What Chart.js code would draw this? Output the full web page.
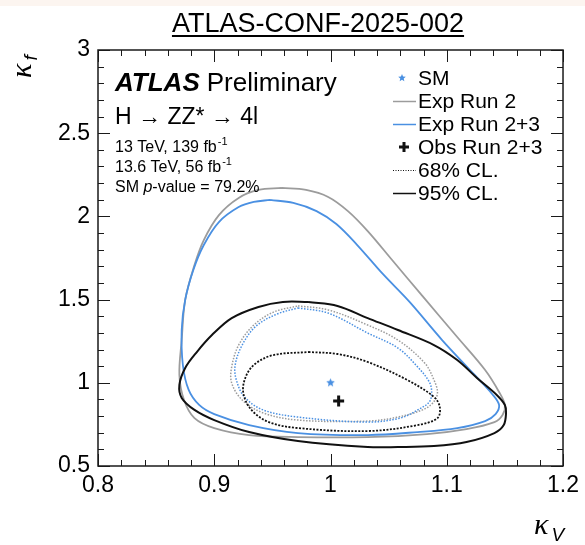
<!DOCTYPE html>
<html>
<head>
<meta charset="utf-8">
<script src="https://cdn.jsdelivr.net/npm/chart.js@4.4.1/dist/chart.umd.min.js"></script>
<style>
  html, body { margin: 0; padding: 0; background: #fff; }
  #band { position: absolute; left: 0; top: 0; width: 585px; height: 6px; background: #fcf5f0; }
  #wrap { position: relative; width: 585px; height: 545px; }
</style>
</head>
<body>
<div id="wrap"><canvas id="kappaChart" width="585" height="545"></canvas><div id="band"></div></div>
<script>
// ---- contours in the (kappa_V, kappa_f) plane, each a closed loop of [kV, kf] ----
const expRun2_95 = [
  [0.958, 2.171], [0.979, 2.159], [0.998, 2.117], [1.015, 2.032], [1.032, 1.912],
  [1.053, 1.738], [1.079, 1.522], [1.109, 1.275], [1.133, 1.077], [1.145, 0.945],
  [1.150, 0.867], [1.148, 0.807], [1.141, 0.764], [1.117, 0.722], [1.083, 0.692],
  [1.032, 0.674], [0.972, 0.674], [0.930, 0.686], [0.900, 0.728], [0.883, 0.788],
  [0.874, 0.897], [0.870, 1.047], [0.872, 1.257], [0.875, 1.498], [0.883, 1.708],
  [0.891, 1.858], [0.904, 2.008], [0.921, 2.111], [0.938, 2.159]
];
const expRun23_95 = [
  [0.948, 2.099], [0.968, 2.081], [0.988, 2.032], [1.005, 1.954], [1.023, 1.828],
  [1.045, 1.654], [1.068, 1.486], [1.096, 1.257], [1.124, 1.047], [1.139, 0.933],
  [1.145, 0.867], [1.142, 0.812], [1.133, 0.770], [1.109, 0.728], [1.075, 0.704],
  [1.032, 0.686], [0.972, 0.698], [0.930, 0.746], [0.900, 0.812], [0.887, 0.867],
  [0.878, 0.957], [0.873, 1.107], [0.872, 1.317], [0.875, 1.498], [0.882, 1.678],
  [0.891, 1.828], [0.904, 1.966], [0.921, 2.056], [0.934, 2.087]
];
const obsRun23_95 = [
  [0.981, 1.486], [1.006, 1.462], [1.032, 1.389], [1.058, 1.317], [1.089, 1.227],
  [1.109, 1.137], [1.126, 1.029], [1.143, 0.927], [1.150, 0.867], [1.151, 0.819],
  [1.149, 0.746], [1.141, 0.698], [1.117, 0.644], [1.089, 0.620], [1.058, 0.614],
  [1.032, 0.614], [0.972, 0.650], [0.930, 0.704], [0.900, 0.776], [0.883, 0.837],
  [0.872, 0.909], [0.870, 0.987], [0.875, 1.089], [0.885, 1.185], [0.898, 1.287],
  [0.915, 1.389], [0.938, 1.456], [0.959, 1.486]
];
const expRun2_68 = [
  [0.972, 1.462], [0.998, 1.438], [1.032, 1.347], [1.058, 1.257], [1.081, 1.119],
  [1.089, 1.017], [1.092, 0.939], [1.088, 0.879], [1.079, 0.837], [1.058, 0.794],
  [1.032, 0.770], [0.972, 0.776], [0.942, 0.819], [0.924, 0.897], [0.915, 0.999],
  [0.915, 1.095], [0.921, 1.227], [0.934, 1.347], [0.951, 1.425]
];
const expRun23_68 = [
  [0.972, 1.450], [0.998, 1.419], [1.032, 1.299], [1.058, 1.209], [1.075, 1.095],
  [1.085, 1.005], [1.087, 0.945], [1.085, 0.885], [1.075, 0.837], [1.060, 0.788],
  [1.032, 0.764], [0.972, 0.794], [0.942, 0.837], [0.926, 0.915], [0.919, 1.017],
  [0.918, 1.107], [0.924, 1.227], [0.936, 1.341], [0.954, 1.413]
];
const obsRun23_68 = [
  [0.981, 1.185], [1.006, 1.173], [1.032, 1.125], [1.066, 1.017], [1.089, 0.915],
  [1.094, 0.855], [1.092, 0.788], [1.075, 0.746], [1.032, 0.710], [0.972, 0.728],
  [0.947, 0.764], [0.932, 0.837], [0.925, 0.939], [0.927, 1.035], [0.935, 1.113],
  [0.951, 1.167]
];

// Standard Model point and best fit
const smPoint = [1.0, 1.0];
const bestFit = [1.007, 0.89];

// axis ticks
const xMajorTicks = [0.8, 0.9, 1.0, 1.1, 1.2];
const xTickLabels = ['0.8', '0.9', '1', '1.1', '1.2'];
const yMajorTicks = [0.5, 1.0, 1.5, 2.0, 2.5, 3.0];
const yTickLabels = ['0.5', '1', '1.5', '2', '2.5', '3'];

// legend entries
const legendLabels = ['SM', 'Exp Run 2', 'Exp Run 2+3', 'Obs Run 2+3', '68% CL.', '95% CL.'];

const FONT = "'Liberation Sans', Arial, Helvetica, sans-serif";
const GREY = '#9c9c9c';
const BLUE = '#4a90e2';
const BLACK = '#111111';

function loop(pairs) {
  return pairs.concat([pairs[0]]).map(([x, y]) => ({ x: x, y: y }));
}

function majorIndex(list, v) {
  return list.findIndex((m) => Math.abs(m - v) < 1e-6);
}

function starCanvas(color, r) {
  const c = document.createElement('canvas');
  c.width = c.height = Math.ceil(r * 2 + 2);
  const g = c.getContext('2d');
  g.fillStyle = color;
  g.beginPath();
  for (let i = 0; i < 10; i++) {
    const rad = i % 2 === 0 ? r : r * 0.45;
    const a = -Math.PI / 2 + i * Math.PI / 5;
    g.lineTo(c.width / 2 + rad * Math.cos(a), c.height / 2 + rad * Math.sin(a));
  }
  g.closePath();
  g.fill();
  return c;
}

function contour(data, color, width, dash) {
  return {
    data: loop(data),
    showLine: true,
    borderColor: color,
    borderWidth: width,
    borderDash: dash || [],
    pointRadius: 0,
    tension: 0.35,
    fill: false
  };
}

// inward ticks on all four sides plus the frame
const framePlugin = {
  id: 'frame',
  afterDraw(chart) {
    const { ctx, chartArea: a, scales } = chart;
    ctx.save();
    ctx.strokeStyle = '#1a1a1a';
    ctx.lineWidth = 1;
    scales.x.ticks.forEach((t) => {
      const px = Math.round(scales.x.getPixelForValue(t.value)) + 0.5;
      const len = majorIndex(xMajorTicks, t.value) >= 0 ? 12 : 6;
      ctx.beginPath();
      ctx.moveTo(px, a.bottom); ctx.lineTo(px, a.bottom - len);
      ctx.moveTo(px, a.top); ctx.lineTo(px, a.top + len);
      ctx.stroke();
    });
    scales.y.ticks.forEach((t) => {
      const py = Math.round(scales.y.getPixelForValue(t.value)) + 0.5;
      const len = majorIndex(yMajorTicks, t.value) >= 0 ? 12 : 6;
      ctx.beginPath();
      ctx.moveTo(a.left, py); ctx.lineTo(a.left + len, py);
      ctx.moveTo(a.right, py); ctx.lineTo(a.right - len, py);
      ctx.stroke();
    });
    ctx.lineWidth = 1.5;
    ctx.strokeRect(a.left, a.top, a.right - a.left, a.bottom - a.top);
    ctx.restore();
  }
};

// title, labels, axis titles and legend
const textPlugin = {
  id: 'texts',
  afterDraw(chart) {
    const ctx = chart.ctx;
    ctx.save();
    ctx.fillStyle = '#000';
    ctx.textBaseline = 'alphabetic';

    // title with underline
    ctx.font = '27px ' + FONT;
    ctx.textAlign = 'center';
    const title = 'ATLAS-CONF-2025-002';
    const tw = ctx.measureText(title).width;
    ctx.fillText(title, 318, 32);
    ctx.fillRect(318 - tw / 2, 35, tw, 2);

    ctx.textAlign = 'left';
    ctx.font = 'italic bold 26px ' + FONT;
    ctx.fillText('ATLAS', 115, 91);
    const aw = ctx.measureText('ATLAS').width;
    ctx.font = '26px ' + FONT;
    ctx.fillText('Preliminary', 115 + aw + 7, 91);

    ctx.font = '23px ' + FONT;
    ctx.fillText('H \u2192 ZZ* \u2192 4l', 115, 124);

    const lumi = [['13 TeV, 139 fb', 152], ['13.6 TeV, 56 fb', 172]];
    lumi.forEach(([s, y]) => {
      ctx.font = '16px ' + FONT;
      ctx.fillText(s, 115, y);
      const w = ctx.measureText(s).width;
      ctx.font = '11px ' + FONT;
      ctx.fillText('-1', 115 + w + 1, y - 7);
    });
    ctx.font = '16px ' + FONT;
    ctx.fillText('SM ', 115, 192);
    let x = 115 + ctx.measureText('SM ').width;
    ctx.font = 'italic 16px ' + FONT;
    ctx.fillText('p', x, 192);
    x += ctx.measureText('p').width;
    ctx.font = '16px ' + FONT;
    ctx.fillText('-value = 79.2%', x, 192);

    // legend
    const lx = 393, tx = 418, rows = [78, 101, 124, 147, 170, 193];
    ctx.font = '21px ' + FONT;
    ctx.textBaseline = 'middle';
    legendLabels.forEach((label, i) => {
      const y = rows[i];
      ctx.fillStyle = '#000';
      ctx.fillText(label, tx, y + 1);
      ctx.save();
      if (i === 0) {
        const s = starCanvas(BLUE, 4);
        ctx.drawImage(s, 402 - s.width / 2, y - s.height / 2);
      } else if (i === 3) {
        ctx.strokeStyle = BLACK;
        ctx.lineWidth = 3;
        ctx.beginPath();
        ctx.moveTo(399, y); ctx.lineTo(409, y);
        ctx.moveTo(404, y - 5); ctx.lineTo(404, y + 5);
        ctx.stroke();
      } else {
        ctx.strokeStyle = i === 1 ? GREY : i === 2 ? BLUE : BLACK;
        ctx.lineWidth = i === 4 ? 1 : 1.5;
        if (i === 4) ctx.setLineDash([1, 1.5]);
        ctx.beginPath();
        ctx.moveTo(lx, y + 0.5); ctx.lineTo(tx - 2, y + 0.5);
        ctx.stroke();
      }
      ctx.restore();
    });

    // axis titles
    ctx.textBaseline = 'alphabetic';
    ctx.fillStyle = '#000';
    ctx.font = 'italic 30px "Liberation Serif", serif';
    ctx.fillText('\u03ba', 534, 534);
    const kw = ctx.measureText('\u03ba').width;
    ctx.font = 'italic 19px ' + FONT;
    ctx.fillText('V', 534 + kw + 3, 541);

    ctx.save();
    ctx.translate(31, 78);
    ctx.rotate(-Math.PI / 2);
    ctx.font = 'italic 30px "Liberation Serif", serif';
    ctx.fillText('\u03ba', 0, 0);
    ctx.font = 'italic 19px ' + FONT;
    ctx.fillText('f', kw + 3, 6);
    ctx.restore();

    ctx.restore();
  }
};

const ctx = document.getElementById('kappaChart').getContext('2d');
new Chart(ctx, {
  type: 'scatter',
  data: {
    datasets: [
      {
        data: [{ x: bestFit[0], y: bestFit[1] }],
        pointStyle: 'cross',
        pointRadius: 5.5,
        borderWidth: 3,
        borderColor: BLACK,
        backgroundColor: BLACK
      },
      {
        data: [{ x: smPoint[0], y: smPoint[1] }],
        pointStyle: starCanvas(BLUE, 4.5),
        pointRadius: 5
      },
      contour(obsRun23_95, BLACK, 2),
      contour(obsRun23_68, BLACK, 1.8, [2, 1.5]),
      contour(expRun23_95, BLUE, 1.8),
      contour(expRun23_68, BLUE, 1.5, [1.5, 1.5]),
      contour(expRun2_95, GREY, 1.8),
      contour(expRun2_68, GREY, 1.5, [1.5, 1.5])
    ]
  },
  options: {
    responsive: false,
    animation: false,
    layout: { padding: { top: 50, right: 18, bottom: 0, left: 0 } },
    plugins: { legend: { display: false }, tooltip: { enabled: false } },
    scales: {
      x: {
        type: 'linear',
        min: 0.8,
        max: 1.2,
        afterFit: (s) => { s.height = 79; },
        grid: { display: false, drawTicks: false },
        border: { display: false },
        ticks: {
          stepSize: 0.02,
          autoSkip: false,
          maxRotation: 0,
          padding: 6,
          color: '#000',
          font: { family: FONT, size: 23 },
          callback: (v) => {
            const i = majorIndex(xMajorTicks, v);
            return i >= 0 ? xTickLabels[i] : '';
          }
        }
      },
      y: {
        type: 'linear',
        min: 0.5,
        max: 3,
        afterFit: (s) => { s.width = 98; },
        grid: { display: false, drawTicks: false },
        border: { display: false },
        ticks: {
          stepSize: 0.1,
          autoSkip: false,
          padding: 8,
          color: '#000',
          font: { family: FONT, size: 23 },
          callback: (v) => {
            const i = majorIndex(yMajorTicks, v);
            return i >= 0 ? yTickLabels[i] : '';
          }
        }
      }
    }
  },
  plugins: [framePlugin, textPlugin]
});
</script>
</body>
</html>
